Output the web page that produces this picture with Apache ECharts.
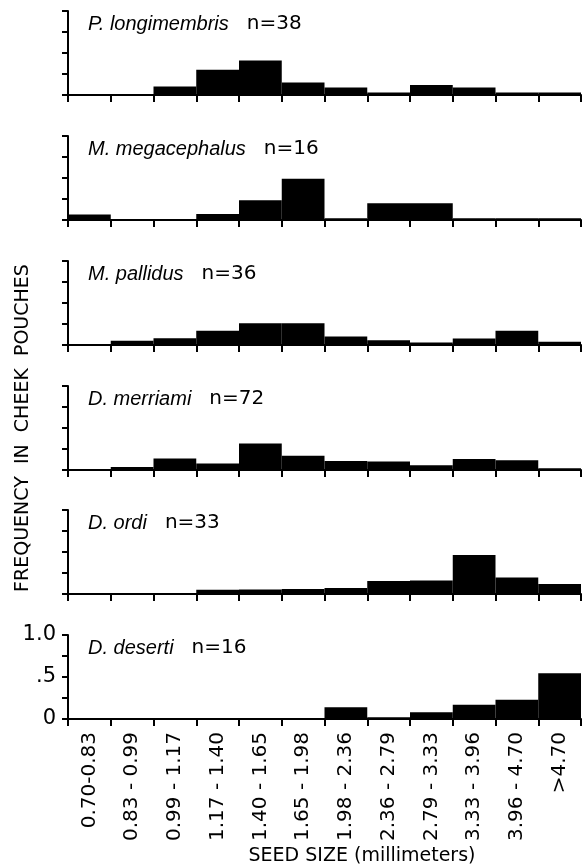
<!DOCTYPE html>
<html>
<head>
<meta charset="utf-8">
<script src="https://cdn.jsdelivr.net/npm/echarts@6/dist/echarts.min.js"></script>
<style>
  html, body { margin: 0; background: #fff; }
  #main { width: 588px; height: 866px; }
</style>
</head>
<body>
<div id="main"></div>
<script>
// seed size classes (mm)
const categories = ['0.70-0.83', '0.83 - 0.99', '0.99 - 1.17', '1.17 - 1.40', '1.40 - 1.65', '1.65 - 1.98',
  '1.98 - 2.36', '2.36 - 2.79', '2.79 - 3.33', '3.33 - 3.96', '3.96 - 4.70', '>4.70'];

const species = ['P. longimembris', 'M. megacephalus', 'M. pallidus', 'D. merriami', 'D. ordi', 'D. deserti'];
const sampleSizes = [38, 16, 36, 72, 33, 16];

// frequency in cheek pouches
const longimembris = [0, 0, 0.10, 0.30, 0.41, 0.15, 0.09, 0.03, 0.12, 0.09, 0.03, 0.03];
const megacephalus = [0.066, 0, 0, 0.07, 0.235, 0.49, 0.02, 0.20, 0.20, 0.02, 0.02, 0.02];
const pallidus = [0, 0.05, 0.08, 0.17, 0.26, 0.26, 0.10, 0.056, 0.03, 0.076, 0.17, 0.04];
const merriami = [0, 0.036, 0.136, 0.076, 0.316, 0.17, 0.108, 0.10, 0.056, 0.13, 0.116, 0.02];
const ordi = [0, 0, 0, 0.05, 0.055, 0.06, 0.07, 0.155, 0.16, 0.465, 0.196, 0.12];
const deserti = [0, 0, 0, 0, 0, 0, 0.14, 0.02, 0.08, 0.17, 0.23, 0.545];

const seriesData = [longimembris, megacephalus, pallidus, merriami, ordi, deserti];
const yLabels = {0: '0', 0.5: '.5', 1: '1.0'};

// layout
const baselines = [95, 220, 345, 470, 594, 719];
const panelH = 84;
const axisLeft = 68;
const axisRight = 7;
const last = species.length - 1;

const chart = echarts.init(document.getElementById('main'));

const grids = [], xAxes = [], yAxes = [], series = [], titles = [];
baselines.forEach((b, i) => {
  grids.push({left: axisLeft, right: axisRight, top: b - panelH, height: panelH});
  xAxes.push({
    type: 'category', gridIndex: i, data: categories, boundaryGap: true,
    axisLine: {lineStyle: {color: '#000', width: 2}},
    axisTick: {show: true, length: 7, lineStyle: {color: '#000', width: 2}},
    axisLabel: {
      show: i === last, rotate: 90, interval: 0, margin: 13,
      color: '#000', fontSize: 20, fontFamily: 'DejaVu Sans'
    }
  });
  yAxes.push({
    type: 'value', gridIndex: i, min: 0, max: 1, interval: 0.25,
    splitLine: {show: false},
    axisLine: {show: true, lineStyle: {color: '#000', width: 2}},
    axisTick: {show: true, length: 6, lineStyle: {color: '#000', width: 2}},
    axisLabel: {
      show: i === last, margin: 12, color: '#000', fontSize: 21, fontFamily: 'DejaVu Sans',
      formatter: v => (yLabels[v] !== undefined ? yLabels[v] : '')
    }
  });
  series.push({
    type: 'bar', xAxisIndex: i, yAxisIndex: i, data: seriesData[i],
    barCategoryGap: '0%', barGap: '0%',
    itemStyle: {color: '#000'}, silent: true
  });
  titles.push({
    left: axisLeft + 15, top: b - panelH - 2,
    text: '{a|' + species[i] + '}{b|n=' + sampleSizes[i] + '}',
    textStyle: {
      fontWeight: 'normal',
      rich: {
        a: {fontFamily: 'Liberation Sans', fontStyle: 'italic', fontWeight: 'normal', fontSize: 20, color: '#000', padding: [0, 18, 0, 0]},
        b: {fontFamily: 'DejaVu Sans', fontWeight: 'normal', fontSize: 20, color: '#000'}
      }
    }
  });
});

chart.setOption({
  animation: false,
  backgroundColor: '#fff',
  title: titles,
  grid: grids,
  xAxis: xAxes,
  yAxis: yAxes,
  series: series,
  graphic: [
    {
      type: 'text', x: 23, y: 428, rotation: Math.PI / 2,
      style: {
        text: 'FREQUENCY  IN  CHEEK  POUCHES', fill: '#000',
        font: '19px "DejaVu Sans"', align: 'center', verticalAlign: 'middle'
      }
    },
    {
      type: 'text', x: 362, y: 856,
      style: {
        text: 'SEED SIZE (millimeters)', fill: '#000',
        font: '19px "DejaVu Sans"', align: 'center', verticalAlign: 'middle'
      }
    }
  ]
});
</script>
</body>
</html>
